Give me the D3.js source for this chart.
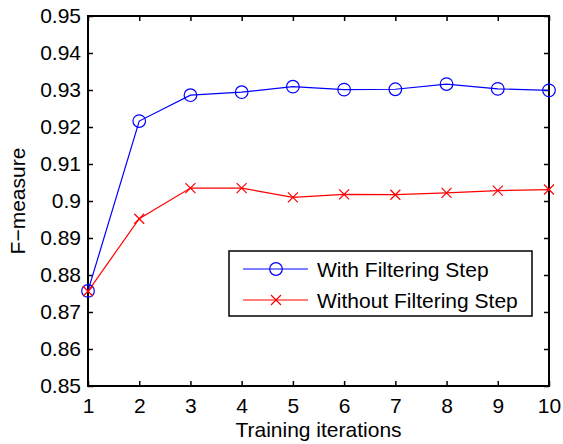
<!DOCTYPE html>
<html>
<head>
<meta charset="utf-8">
<script src="https://cdn.jsdelivr.net/npm/d3@7"></script>
<style>
  body { margin: 0; background: #fff; }
  text { font-family: "Liberation Sans", Arial, sans-serif; }
</style>
</head>
<body>
<div id="chart"></div>
<script>
// data
var iterations = [1, 2, 3, 4, 5, 6, 7, 8, 9, 10];
var withFiltering = [0.8757, 0.9216, 0.9286, 0.9294, 0.9309, 0.9301, 0.9302, 0.9316, 0.9303, 0.9299];
var withoutFiltering = [0.8756, 0.8952, 0.9035, 0.9035, 0.9010, 0.9018, 0.9017, 0.9022, 0.9028, 0.9031];
var yTicks = [0.85, 0.86, 0.87, 0.88, 0.89, 0.9, 0.91, 0.92, 0.93, 0.94, 0.95];
var seriesNames = ["With Filtering Step", "Without Filtering Step"];

var margin = {top: 16, right: 14, bottom: 58, left: 88},
    width = 563 - margin.left - margin.right,
    height = 444 - margin.top - margin.bottom;

var svg = d3.select("#chart").append("svg")
    .attr("width", width + margin.left + margin.right)
    .attr("height", height + margin.top + margin.bottom)
  .append("g")
    .attr("transform", "translate(" + margin.left + "," + margin.top + ")");

var xScale = d3.scaleLinear().domain([1, 10]).range([0, width]);
var yScale = d3.scaleLinear().domain([0.85, 0.95]).range([height, 0]);

var fontSize = 21;

// axes box
svg.append("rect")
    .attr("width", width).attr("height", height)
    .attr("fill", "none").attr("stroke", "#000").attr("stroke-width", 2);

// ticks on all 4 sides, pointing inward, MATLAB style
var xAxis = d3.axisBottom(xScale).tickValues(iterations).tickSize(-5).tickPadding(12)
    .tickFormat(d3.format("d"));
var yAxis = d3.axisLeft(yScale).tickValues(yTicks).tickSize(-5).tickPadding(7)
    .tickFormat(d => d3.format("")(+d.toFixed(2)));

var gx = svg.append("g").attr("transform", "translate(0," + height + ")").call(xAxis);
var gy = svg.append("g").call(yAxis);
svg.append("g").call(d3.axisTop(xScale).tickValues(iterations).tickSize(-5).tickFormat(""));
svg.append("g").attr("transform", "translate(" + width + ",0)")
    .call(d3.axisRight(yScale).tickValues(yTicks).tickSize(-5).tickFormat(""));

svg.selectAll(".domain").remove();
svg.selectAll(".tick line").attr("stroke", "#000").attr("stroke-width", 1.5);
svg.selectAll(".tick text").attr("fill", "#000").style("font-size", fontSize + "px")
    .style("font-family", "'Liberation Sans', Arial, sans-serif");
gx.selectAll(".tick text").attr("dy", "0.71em");

// axis labels
svg.append("text")
    .attr("x", width / 2).attr("y", height + 51)
    .attr("text-anchor", "middle")
    .style("font-size", fontSize + "px")
    .text("Training iterations");

svg.append("text")
    .attr("transform", "rotate(-90)")
    .attr("x", -height / 2).attr("y", -margin.left + 25)
    .attr("text-anchor", "middle")
    .style("font-size", fontSize + "px")
    .text("F\u2212measure");

// lines
var line = d3.line()
    .x((d, i) => xScale(iterations[i]))
    .y(d => yScale(d));

svg.append("path").datum(withoutFiltering)
    .attr("d", line).attr("fill", "none").attr("stroke", "#ff0000").attr("stroke-width", 1.2);
svg.append("path").datum(withFiltering)
    .attr("d", line).attr("fill", "none").attr("stroke", "#0000ff").attr("stroke-width", 1.2);

function drawCross(sel, cx, cy) {
  var s = 5;
  sel.append("path")
    .attr("d", "M" + (cx - s) + "," + (cy - s) + "L" + (cx + s) + "," + (cy + s) +
               "M" + (cx - s) + "," + (cy + s) + "L" + (cx + s) + "," + (cy - s))
    .attr("stroke", "#ff0000").attr("stroke-width", 1.2).attr("fill", "none");
}

svg.append("g").selectAll("circle")
  .data(withFiltering)
  .enter().append("circle")
    .attr("cx", (d, i) => xScale(iterations[i]))
    .attr("cy", d => yScale(d))
    .attr("r", 6.3)
    .attr("fill", "none").attr("stroke", "#0000ff").attr("stroke-width", 1.2);

var crosses = svg.append("g");
withoutFiltering.forEach((d, i) => drawCross(crosses, xScale(iterations[i]), yScale(d)));

// legend
var lg = svg.append("g").attr("transform", "translate(" + (229 - margin.left) + "," + (251 - margin.top) + ")");
lg.append("rect")
    .attr("width", 303).attr("height", 65)
    .attr("fill", "#fff").attr("stroke", "#000").attr("stroke-width", 1.5);

var rowY = [18, 49];
var colors = ["#0000ff", "#ff0000"];
seriesNames.forEach(function(name, i) {
  lg.append("line")
    .attr("x1", 14).attr("x2", 79).attr("y1", rowY[i]).attr("y2", rowY[i])
    .attr("stroke", colors[i]).attr("stroke-width", 1.2);
  if (i === 0) {
    lg.append("circle").attr("cx", 47).attr("cy", rowY[i]).attr("r", 6.3)
      .attr("fill", "none").attr("stroke", colors[i]).attr("stroke-width", 1.2);
  } else {
    drawCross(lg, 47, rowY[i]);
  }
  lg.append("text")
    .attr("x", 88).attr("y", rowY[i]).attr("dy", "0.36em")
    .style("font-size", fontSize + "px")
    .text(name);
});
</script>
</body>
</html>
